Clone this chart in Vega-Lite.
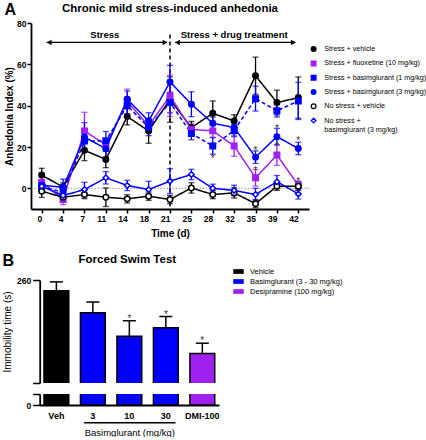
{
  "$schema": "https://vega.github.io/schema/vega-lite/v6.json",
  "background": "white",
  "padding": {"left": 2, "top": 1, "right": 0, "bottom": 0},
  "config": {
    "font": "Liberation Sans",
    "view": {"stroke": null},
    "axis": {"domainColor": "black", "domainWidth": 1.8, "tickColor": "black", "tickWidth": 1.5, "labelColor": "black", "titleColor": "black", "grid": false, "labelFontWeight": "bold", "labelFontSize": 8.5},
    "title": {"color": "black"}
  },
  "datasets": {
    "series": [
      {"day": 0, "group": "Stress + vehicle", "mean": 6.4, "sem": 3.3},
      {"day": 0, "group": "Stress + fluoxetine (10 mg/kg)", "mean": 3, "sem": 2.5},
      {"day": 0, "group": "Stress + basimglurant (1 mg/kg)", "mean": 1, "sem": 2.5},
      {"day": 0, "group": "Stress + basimglurant (3 mg/kg)", "mean": 1.5, "sem": 2.5},
      {"day": 0, "group": "No stress + vehicle", "mean": -1.4, "sem": 3},
      {"day": 0, "group": "No stress + basimglurant (3 mg/kg)", "mean": 1, "sem": 2.5},
      {"day": 4, "group": "Stress + vehicle", "mean": 0.6, "sem": 2},
      {"day": 4, "group": "Stress + fluoxetine (10 mg/kg)", "mean": -5.4, "sem": 2.5},
      {"day": 4, "group": "Stress + basimglurant (1 mg/kg)", "mean": -2, "sem": 3},
      {"day": 4, "group": "Stress + basimglurant (3 mg/kg)", "mean": 0.5, "sem": 4},
      {"day": 4, "group": "No stress + vehicle", "mean": -4.3, "sem": 2},
      {"day": 4, "group": "No stress + basimglurant (3 mg/kg)", "mean": -3.5, "sem": 2.5},
      {"day": 7, "group": "Stress + vehicle", "mean": 18.4, "sem": 5},
      {"day": 7, "group": "Stress + fluoxetine (10 mg/kg)", "mean": 27.8, "sem": 9},
      {"day": 7, "group": "Stress + basimglurant (1 mg/kg)", "mean": 22.9, "sem": 5},
      {"day": 7, "group": "Stress + basimglurant (3 mg/kg)", "mean": 24.8, "sem": 7},
      {"day": 7, "group": "No stress + vehicle", "mean": -3, "sem": 2},
      {"day": 7, "group": "No stress + basimglurant (3 mg/kg)", "mean": -0.6, "sem": 3.5},
      {"day": 11, "group": "Stress + vehicle", "mean": 14, "sem": 4},
      {"day": 11, "group": "Stress + fluoxetine (10 mg/kg)", "mean": 21, "sem": 3},
      {"day": 11, "group": "Stress + basimglurant (1 mg/kg)", "mean": 23, "sem": 4.5},
      {"day": 11, "group": "Stress + basimglurant (3 mg/kg)", "mean": 19.2, "sem": 4},
      {"day": 11, "group": "No stress + vehicle", "mean": -4.3, "sem": 4.5},
      {"day": 11, "group": "No stress + basimglurant (3 mg/kg)", "mean": 5.1, "sem": 3},
      {"day": 14, "group": "Stress + vehicle", "mean": 34.7, "sem": 4},
      {"day": 14, "group": "Stress + fluoxetine (10 mg/kg)", "mean": 42, "sem": 6},
      {"day": 14, "group": "Stress + basimglurant (1 mg/kg)", "mean": 40, "sem": 4},
      {"day": 14, "group": "Stress + basimglurant (3 mg/kg)", "mean": 43.1, "sem": 4},
      {"day": 14, "group": "No stress + vehicle", "mean": -5.1, "sem": 2},
      {"day": 14, "group": "No stress + basimglurant (3 mg/kg)", "mean": 1.4, "sem": 2.5},
      {"day": 18, "group": "Stress + vehicle", "mean": 27.8, "sem": 6},
      {"day": 18, "group": "Stress + fluoxetine (10 mg/kg)", "mean": 30.2, "sem": 3},
      {"day": 18, "group": "Stress + basimglurant (1 mg/kg)", "mean": 29.5, "sem": 4},
      {"day": 18, "group": "Stress + basimglurant (3 mg/kg)", "mean": 32.6, "sem": 4},
      {"day": 18, "group": "No stress + vehicle", "mean": -3.8, "sem": 2},
      {"day": 18, "group": "No stress + basimglurant (3 mg/kg)", "mean": -0.6, "sem": 4},
      {"day": 21, "group": "Stress + vehicle", "mean": 43, "sem": 11},
      {"day": 21, "group": "Stress + fluoxetine (10 mg/kg)", "mean": 44.8, "sem": 10},
      {"day": 21, "group": "Stress + basimglurant (1 mg/kg)", "mean": 41.5, "sem": 5},
      {"day": 21, "group": "Stress + basimglurant (3 mg/kg)", "mean": 51.5, "sem": 8},
      {"day": 21, "group": "No stress + vehicle", "mean": -5.4, "sem": 2},
      {"day": 21, "group": "No stress + basimglurant (3 mg/kg)", "mean": 3.5, "sem": 6},
      {"day": 25, "group": "Stress + vehicle", "mean": 29.4, "sem": 3},
      {"day": 25, "group": "Stress + fluoxetine (10 mg/kg)", "mean": 28.5, "sem": 3},
      {"day": 25, "group": "Stress + basimglurant (1 mg/kg)", "mean": 26.5, "sem": 3},
      {"day": 25, "group": "Stress + basimglurant (3 mg/kg)", "mean": 40.7, "sem": 6},
      {"day": 25, "group": "No stress + vehicle", "mean": 0.2, "sem": 2.5},
      {"day": 25, "group": "No stress + basimglurant (3 mg/kg)", "mean": 6.7, "sem": 2.5},
      {"day": 28, "group": "Stress + vehicle", "mean": 36.3, "sem": 6},
      {"day": 28, "group": "Stress + fluoxetine (10 mg/kg)", "mean": 27.8, "sem": 3},
      {"day": 28, "group": "Stress + basimglurant (1 mg/kg)", "mean": 20.5, "sem": 4},
      {"day": 28, "group": "Stress + basimglurant (3 mg/kg)", "mean": 31.5, "sem": 3},
      {"day": 28, "group": "No stress + vehicle", "mean": -3, "sem": 2},
      {"day": 28, "group": "No stress + basimglurant (3 mg/kg)", "mean": 0, "sem": 2},
      {"day": 32, "group": "Stress + vehicle", "mean": 32.6, "sem": 3},
      {"day": 32, "group": "Stress + fluoxetine (10 mg/kg)", "mean": 20.5, "sem": 5},
      {"day": 32, "group": "Stress + basimglurant (1 mg/kg)", "mean": 28, "sem": 3},
      {"day": 32, "group": "Stress + basimglurant (3 mg/kg)", "mean": 29.4, "sem": 3},
      {"day": 32, "group": "No stress + vehicle", "mean": -2.2, "sem": 2.5},
      {"day": 32, "group": "No stress + basimglurant (3 mg/kg)", "mean": -1, "sem": 2.5},
      {"day": 35, "group": "Stress + vehicle", "mean": 54.5, "sem": 9},
      {"day": 35, "group": "Stress + fluoxetine (10 mg/kg)", "mean": 5.1, "sem": 4},
      {"day": 35, "group": "Stress + basimglurant (1 mg/kg)", "mean": 43.4, "sem": 6},
      {"day": 35, "group": "Stress + basimglurant (3 mg/kg)", "mean": 15.1, "sem": 3},
      {"day": 35, "group": "No stress + vehicle", "mean": -7.4, "sem": 2},
      {"day": 35, "group": "No stress + basimglurant (3 mg/kg)", "mean": -3, "sem": 3},
      {"day": 39, "group": "Stress + vehicle", "mean": 41.5, "sem": 6},
      {"day": 39, "group": "Stress + fluoxetine (10 mg/kg)", "mean": 16.1, "sem": 5},
      {"day": 39, "group": "Stress + basimglurant (1 mg/kg)", "mean": 37.5, "sem": 3},
      {"day": 39, "group": "Stress + basimglurant (3 mg/kg)", "mean": 25, "sem": 4},
      {"day": 39, "group": "No stress + vehicle", "mean": 1, "sem": 2},
      {"day": 39, "group": "No stress + basimglurant (3 mg/kg)", "mean": 3.2, "sem": 3},
      {"day": 42, "group": "Stress + vehicle", "mean": 43.9, "sem": 10},
      {"day": 42, "group": "Stress + fluoxetine (10 mg/kg)", "mean": 1.5, "sem": 2},
      {"day": 42, "group": "Stress + basimglurant (1 mg/kg)", "mean": 42.3, "sem": 9},
      {"day": 42, "group": "Stress + basimglurant (3 mg/kg)", "mean": 19.3, "sem": 3},
      {"day": 42, "group": "No stress + vehicle", "mean": 1, "sem": 2},
      {"day": 42, "group": "No stress + basimglurant (3 mg/kg)", "mean": -2.7, "sem": 2.5}
    ],
    "starsA": [
      {"day": 28, "value": 15.3},
      {"day": 35, "value": 18.8},
      {"day": 35, "value": 9.5},
      {"day": 39, "value": 29.5},
      {"day": 39, "value": 21},
      {"day": 42, "value": 24},
      {"day": 42, "value": 4}
    ],
    "fst": [
      {"group": "Veh", "treatment": "Vehicle", "mean": 248.5, "upper": 258, "star": ""},
      {"group": "3", "treatment": "Basimglurant (3 - 30 mg/kg)", "mean": 225, "upper": 236.5, "star": ""},
      {"group": "10", "treatment": "Basimglurant (3 - 30 mg/kg)", "mean": 200, "upper": 216.5, "star": "*"},
      {"group": "30", "treatment": "Basimglurant (3 - 30 mg/kg)", "mean": 209, "upper": 221, "star": "*"},
      {"group": "DMI-100", "treatment": "Desipramine (100 mg/kg)", "mean": 181.5, "upper": 192.5, "star": "*"}
    ]
  },
  "columns": 1,
  "align": "none",
  "spacing": 14,
  "resolve": {
    "scale": {"fill": "independent", "stroke": "independent", "shape": "independent", "color": "independent", "strokeDash": "independent"},
    "legend": {"fill": "independent", "stroke": "independent", "shape": "independent", "color": "independent", "strokeDash": "independent"}
  },
  "concat": [
    {
      "title": {"text": "A", "anchor": "start", "frame": "bounds", "fontSize": 16, "fontWeight": "bold", "offset": -15},
      "vconcat": [
        {
          "width": 278,
          "height": 186,
          "layer": [
            {
              "data": {"values": [{}]},
              "mark": {"type": "rule", "color": "#9a9a9a", "strokeDash": [1.5, 1.5], "strokeWidth": 1},
              "encoding": {"y": {"datum": 0, "type": "quantitative"}}
            },
            {
              "data": {"values": [{}]},
              "mark": {"type": "rule", "color": "black", "strokeDash": [4, 3], "strokeWidth": 1.5},
              "encoding": {
                "x": {"datum": 21, "type": "ordinal"},
                "y": {"datum": 74.4, "type": "quantitative"},
                "y2": {"datum": -10}
              }
            },
            {
              "data": {"values": [{}]},
              "mark": {"type": "rule", "color": "black", "strokeWidth": 1.3, "xOffset": 5, "x2Offset": -3},
              "encoding": {"x": {"datum": 0, "type": "ordinal"}, "x2": {"datum": 21}, "y": {"datum": 70.6, "type": "quantitative"}}
            },
            {
              "data": {"values": [{}]},
              "mark": {"type": "rule", "color": "black", "strokeWidth": 1.3, "xOffset": 5, "x2Offset": -3},
              "encoding": {"x": {"datum": 21, "type": "ordinal"}, "x2": {"datum": 42}, "y": {"datum": 70.6, "type": "quantitative"}}
            },
            {
              "data": {"values": [{}]},
              "mark": {"type": "point", "shape": "triangle-left", "filled": true, "color": "black", "opacity": 1, "size": 30, "xOffset": 7.5},
              "encoding": {"x": {"datum": 0, "type": "ordinal"}, "y": {"datum": 70.6, "type": "quantitative"}}
            },
            {
              "data": {"values": [{}]},
              "mark": {"type": "point", "shape": "triangle-right", "filled": true, "color": "black", "opacity": 1, "size": 30, "xOffset": -5},
              "encoding": {"x": {"datum": 21, "type": "ordinal"}, "y": {"datum": 70.6, "type": "quantitative"}}
            },
            {
              "data": {"values": [{}]},
              "mark": {"type": "point", "shape": "triangle-left", "filled": true, "color": "black", "opacity": 1, "size": 30, "xOffset": 7.5},
              "encoding": {"x": {"datum": 21, "type": "ordinal"}, "y": {"datum": 70.6, "type": "quantitative"}}
            },
            {
              "data": {"values": [{}]},
              "mark": {"type": "point", "shape": "triangle-right", "filled": true, "color": "black", "opacity": 1, "size": 30, "xOffset": -5},
              "encoding": {"x": {"datum": 42, "type": "ordinal"}, "y": {"datum": 70.6, "type": "quantitative"}}
            },
            {
              "data": {"values": [{"label": "Stress"}]},
              "mark": {"type": "text", "fontWeight": "bold", "fontSize": 9.5, "color": "black", "dx": -1},
              "encoding": {"x": {"datum": 11, "type": "ordinal"}, "y": {"datum": 74, "type": "quantitative"}, "text": {"field": "label"}}
            },
            {
              "data": {"values": [{"label": "Stress + drug treatment"}]},
              "mark": {"type": "text", "fontWeight": "bold", "fontSize": 9.5, "color": "black"},
              "encoding": {"x": {"datum": 32, "type": "ordinal"}, "y": {"datum": 74.2, "type": "quantitative"}, "text": {"field": "label"}}
            },
            {
              "data": {"values": [{"label": "Chronic mild stress-induced anhedonia"}]},
              "mark": {"type": "text", "fontWeight": "bold", "fontSize": 11.5, "color": "black"},
              "encoding": {"x": {"datum": 21, "type": "ordinal"}, "y": {"datum": 86.8, "type": "quantitative"}, "text": {"field": "label"}}
            },
            {
              "data": {"name": "series"},
              "mark": {"type": "line", "strokeWidth": 1.5},
              "encoding": {
                "x": {"field": "day", "type": "ordinal", "title": "Time (d)", "scale": {"type": "point", "padding": 0.5},
                      "axis": {"titleFontSize": 10, "titleFontWeight": "bold", "titlePadding": 6, "labelAngle": 0, "tickSize": 4, "labelPadding": 5}},
                "y": {"field": "mean", "type": "quantitative", "title": "Anhedonia Index (%)", "scale": {"domain": [-10, 80], "nice": false, "zero": false},
                      "axis": {"titleFontSize": 10, "titleFontWeight": "bold", "values": [0, 10, 20, 30, 40, 50, 60, 70, 80], "tickSize": 4, "labelPadding": 1, "titlePadding": 2}},
                "color": {"field": "group", "type": "nominal", "legend": null,
                          "scale": {"domain": ["No stress + basimglurant (3 mg/kg)", "No stress + vehicle", "Stress + basimglurant (3 mg/kg)", "Stress + basimglurant (1 mg/kg)", "Stress + fluoxetine (10 mg/kg)", "Stress + vehicle"],
                                    "range": ["#0000ff", "#000000", "#0000ff", "#0000ff", "#a020f0", "#000000"]}},
                "strokeDash": {"field": "group", "type": "nominal", "legend": null,
                               "scale": {"domain": ["No stress + basimglurant (3 mg/kg)", "No stress + vehicle", "Stress + basimglurant (3 mg/kg)", "Stress + basimglurant (1 mg/kg)", "Stress + fluoxetine (10 mg/kg)", "Stress + vehicle"],
                                         "range": [[1, 0], [1, 0], [1, 0], [4, 2.5], [1, 0], [1, 0]]}}
              }
            },
            {
              "data": {"name": "series"},
              "mark": {"type": "errorbar", "ticks": {"size": 6}, "thickness": 1.3},
              "encoding": {
                "x": {"field": "day", "type": "ordinal", "title": "Time (d)"},
                "y": {"field": "mean", "type": "quantitative", "title": "Anhedonia Index (%)"},
                "yError": {"field": "sem"},
                "color": {"field": "group", "type": "nominal", "legend": null}
              }
            },
            {
              "data": {"name": "series"},
              "mark": {"type": "point", "size": 30, "strokeWidth": 1.5, "opacity": 1},
              "encoding": {
                "x": {"field": "day", "type": "ordinal", "title": "Time (d)"},
                "y": {"field": "mean", "type": "quantitative", "title": "Anhedonia Index (%)"},
                "stroke": {"field": "group", "type": "nominal", "title": "",
                           "legend": {"orient": "none", "legendX": 279, "legendY": 22.5, "labelFontSize": 7.2, "labelFontWeight": "normal", "symbolSize": 22, "symbolStrokeWidth": 1.3, "rowPadding": 3.3, "labelOffset": 7, "labelLimit": 200,
                                      "labelExpr": "datum.label == 'No stress + basimglurant (3 mg/kg)' ? ['No stress +', 'basimglurant (3 mg/kg)'] : datum.label"},
                           "scale": {"domain": ["Stress + vehicle", "Stress + fluoxetine (10 mg/kg)", "Stress + basimglurant (1 mg/kg)", "Stress + basimglurant (3 mg/kg)", "No stress + vehicle", "No stress + basimglurant (3 mg/kg)"],
                                     "range": ["#000000", "#a020f0", "#0000ff", "#0000ff", "#000000", "#0000ff"]}},
                "fill": {"field": "group", "type": "nominal", "title": "",
                         "legend": {"orient": "none", "legendX": 279, "legendY": 22.5, "labelFontSize": 7.2, "labelFontWeight": "normal", "symbolSize": 22, "symbolStrokeWidth": 1.3, "rowPadding": 3.3, "labelOffset": 7, "labelLimit": 200,
                                    "labelExpr": "datum.label == 'No stress + basimglurant (3 mg/kg)' ? ['No stress +', 'basimglurant (3 mg/kg)'] : datum.label"},
                         "scale": {"domain": ["Stress + vehicle", "Stress + fluoxetine (10 mg/kg)", "Stress + basimglurant (1 mg/kg)", "Stress + basimglurant (3 mg/kg)", "No stress + vehicle", "No stress + basimglurant (3 mg/kg)"],
                                   "range": ["#000000", "#a020f0", "#0000ff", "#0000ff", "#ffffff", "#ffffff"]}},
                "shape": {"field": "group", "type": "nominal", "title": "",
                          "legend": {"orient": "none", "legendX": 279, "legendY": 22.5, "labelFontSize": 7.2, "labelFontWeight": "normal", "symbolSize": 22, "symbolStrokeWidth": 1.3, "rowPadding": 3.3, "labelOffset": 7, "labelLimit": 200,
                                     "labelExpr": "datum.label == 'No stress + basimglurant (3 mg/kg)' ? ['No stress +', 'basimglurant (3 mg/kg)'] : datum.label"},
                          "scale": {"domain": ["Stress + vehicle", "Stress + fluoxetine (10 mg/kg)", "Stress + basimglurant (1 mg/kg)", "Stress + basimglurant (3 mg/kg)", "No stress + vehicle", "No stress + basimglurant (3 mg/kg)"],
                                    "range": ["circle", "square", "square", "circle", "circle", "diamond"]}}
              }
            },
            {
              "data": {"name": "starsA"},
              "mark": {"type": "text", "text": "*", "fontSize": 10, "color": "#333333", "dy": 2},
              "encoding": {"x": {"field": "day", "type": "ordinal", "title": "Time (d)"}, "y": {"field": "value", "type": "quantitative", "title": "Anhedonia Index (%)"}}
            }
          ]
        }
      ]
    },
    {
      "title": {"text": "B", "anchor": "start", "frame": "bounds", "fontSize": 16, "fontWeight": "bold", "offset": -15},
      "spacing": 9,
      "resolve": {"scale": {"fill": "independent"}, "legend": {"fill": "independent"}},
      "vconcat": [
        {
          "width": 188,
          "height": 103,
          "data": {"name": "fst"},
          "layer": [
            {
              "mark": {"type": "bar", "stroke": "black", "strokeWidth": 1.5, "clip": true},
              "encoding": {
                "x": {"field": "group", "type": "nominal", "sort": ["Veh", "3", "10", "30", "DMI-100"], "scale": {"range": [8.7, 188], "paddingInner": 0.32, "paddingOuter": 0.117}, "axis": null},
                "y": {"field": "mean", "type": "quantitative", "title": "Immobility time (s)", "scale": {"domain": [150, 260], "nice": false, "zero": false},
                      "axis": {"offset": -8.7, "titleFontSize": 10, "titleFontWeight": "normal", "values": [150, 160, 180, 200, 220, 240, 260], "labelExpr": "datum.value == 150 ? '' : datum.label", "tickSize": 7, "labelPadding": 2, "titlePadding": 4}},
                "fill": {"field": "treatment", "type": "nominal",
                         "scale": {"domain": ["Vehicle", "Basimglurant (3 - 30 mg/kg)", "Desipramine (100 mg/kg)"], "range": ["#000000", "#0000ff", "#a020f0"]},
                         "legend": {"title": null, "orient": "none", "legendX": 202, "legendY": -14, "symbolType": "M-1,-0.45H1V0.45H-1Z", "symbolSize": 110, "symbolStrokeWidth": 0, "labelFontSize": 7.5, "labelFontWeight": "normal", "rowPadding": 1.0, "labelOffset": 6}}
              }
            },
            {
              "mark": {"type": "rule", "color": "black", "strokeWidth": 1.5},
              "encoding": {
                "x": {"field": "group", "type": "nominal", "sort": ["Veh", "3", "10", "30", "DMI-100"]},
                "y": {"field": "mean", "type": "quantitative", "title": "Immobility time (s)"},
                "y2": {"field": "upper"}
              }
            },
            {
              "mark": {"type": "tick", "orient": "horizontal", "size": 13, "thickness": 1.5, "color": "black", "opacity": 1},
              "encoding": {
                "x": {"field": "group", "type": "nominal", "sort": ["Veh", "3", "10", "30", "DMI-100"]},
                "y": {"field": "upper", "type": "quantitative", "title": "Immobility time (s)"}
              }
            },
            {
              "mark": {"type": "text", "fontSize": 10, "color": "#333333", "dy": -2},
              "encoding": {
                "x": {"field": "group", "type": "nominal", "sort": ["Veh", "3", "10", "30", "DMI-100"]},
                "y": {"field": "upper", "type": "quantitative", "title": "Immobility time (s)"},
                "text": {"field": "star"}
              }
            },
            {
              "data": {"values": [{"label": "Forced  Swim Test"}]},
              "mark": {"type": "text", "fontWeight": "bold", "fontSize": 11.5, "color": "black", "dx": -2},
              "encoding": {"x": {"datum": "10", "type": "nominal"}, "y": {"datum": 281, "type": "quantitative"}, "text": {"field": "label"}}
            }
          ]
        },
        {
          "width": 188,
          "height": 11,
          "data": {"name": "fst"},
          "layer": [
            {
              "mark": {"type": "bar", "stroke": "black", "strokeWidth": 1.5, "clip": true},
              "encoding": {
                "x": {"field": "group", "type": "nominal", "title": "Basimglurant (mg/kg)", "sort": ["Veh", "3", "10", "30", "DMI-100"], "scale": {"range": [8.7, 188], "paddingInner": 0.32, "paddingOuter": 0.117},
                      "axis": {"titleFontSize": 9.5, "titleFontWeight": "normal", "labelAngle": 0, "labelFontSize": 9, "tickSize": 0, "labelPadding": 6, "titlePadding": 7}},
                "y": {"field": "mean", "type": "quantitative", "title": null, "scale": {"domain": [0, 12], "nice": false, "zero": false},
                      "axis": {"offset": -8.7, "values": [0, 12], "labelExpr": "datum.value == 0 ? '0' : ''", "tickSize": 7, "labelPadding": 2}},
                "fill": {"field": "treatment", "type": "nominal", "legend": null,
                         "scale": {"domain": ["Vehicle", "Basimglurant (3 - 30 mg/kg)", "Desipramine (100 mg/kg)"], "range": ["#000000", "#0000ff", "#a020f0"]}}
              }
            },
            {
              "data": {"values": [{}]},
              "mark": {"type": "rule", "color": "black", "strokeWidth": 1.6, "xOffset": -8.7, "x2Offset": 9.7},
              "encoding": {"x": {"datum": "3", "type": "nominal"}, "x2": {"datum": "30"}, "y": {"datum": -19.3, "type": "quantitative"}}
            }
          ]
        }
      ]
    }
  ]
}
